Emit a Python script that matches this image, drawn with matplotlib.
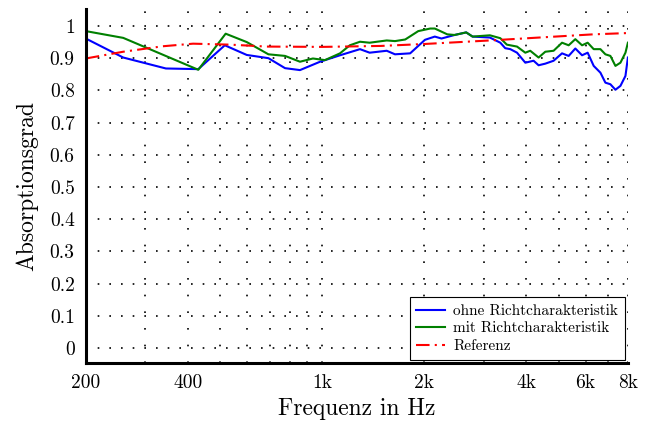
import matplotlib
matplotlib.use("Agg")
from matplotlib import pyplot as plt

plt.rcParams['font.family'] = ['cmr10', 'DejaVu Serif']
plt.rcParams['mathtext.fontset'] = 'cm'
plt.rcParams['axes.formatter.use_mathtext'] = True

# ohne Richtcharakteristik
f_blue = [200, 258, 345, 430, 515, 598, 693, 776, 859, 985, 1128, 1292, 1380, 1550, 1640,
          1818, 1921, 2011, 2150, 2250, 2460, 2662, 2780, 3128, 3358, 3472, 3594, 3762,
          3980, 4211, 4357, 4560, 4825, 5110, 5346, 5594, 5856, 6084, 6339, 6635, 6864,
          7102, 7349, 7604, 7868, 8000]
a_blue = [0.961, 0.902, 0.868, 0.866, 0.940, 0.910, 0.900, 0.869, 0.863, 0.889, 0.909,
          0.928, 0.917, 0.923, 0.912, 0.915, 0.938, 0.957, 0.967, 0.961, 0.972, 0.980,
          0.967, 0.964, 0.948, 0.931, 0.928, 0.917, 0.886, 0.892, 0.878, 0.883, 0.892,
          0.915, 0.907, 0.930, 0.909, 0.917, 0.876, 0.855, 0.824, 0.819, 0.802, 0.814,
          0.845, 0.902]

# mit Richtcharakteristik
f_green = [200, 258, 430, 518, 598, 693, 776, 859, 938, 1018, 1128, 1206, 1292, 1380, 1550,
           1640, 1758, 1921, 2084, 2150, 2340, 2460, 2662, 2780, 3128, 3358, 3510, 3762,
           3980, 4116, 4357, 4560, 4825, 5110, 5346, 5594, 5856, 6084, 6339, 6635, 6864,
           7102, 7349, 7604, 7868, 8000]
a_green = [0.984, 0.963, 0.864, 0.976, 0.950, 0.912, 0.907, 0.889, 0.899, 0.894, 0.915,
           0.940, 0.951, 0.948, 0.955, 0.953, 0.958, 0.984, 0.992, 0.992, 0.974, 0.972,
           0.980, 0.967, 0.971, 0.962, 0.942, 0.936, 0.917, 0.923, 0.902, 0.920, 0.923,
           0.948, 0.940, 0.959, 0.940, 0.948, 0.928, 0.928, 0.912, 0.907, 0.876, 0.886,
           0.917, 0.948]

# Referenz
f_ref = [200, 258, 338, 415, 534, 686, 1000, 1490, 2000, 3128, 4702, 6327, 8000]
a_ref = [0.899, 0.920, 0.937, 0.945, 0.942, 0.936, 0.935, 0.938, 0.944, 0.955, 0.966,
         0.974, 0.978]

major_ticks = [200, 400, 1000, 2000, 4000, 6000, 8000]
major_labels = ['200', '400', '1k', '2k', '4k', '6k', '8k']
minor_ticks = [300, 500, 600, 700, 800, 900, 3000, 5000, 7000]
y_ticks = [0, 0.1, 0.2, 0.3, 0.4, 0.5, 0.6, 0.7, 0.8, 0.9, 1]
y_labels = ['0', '0.1', '0.2', '0.3', '0.4', '0.5', '0.6', '0.7', '0.8', '0.9', '1']

fig = plt.figure(figsize=(6.5, 4.23), dpi=100)
ax = fig.add_axes([0.132, 0.142, 0.834, 0.837])

ax.plot(f_blue, a_blue, color='#0000ff', lw=1.5, label='ohne Richtcharakteristik')
ax.plot(f_green, a_green, color='#008000', lw=1.5, label='mit Richtcharakteristik')
ax.plot(f_ref, a_ref, color='#ff0000', lw=1.5, dashes=(6.5, 2.5, 1, 2.5), label='Referenz')

ax.set_xscale('log')
ax.set_xlim(200, 8000)
ax.set_ylim(-0.046, 1.053)
ax.set_xticks(major_ticks)
ax.set_xticklabels(major_labels)
ax.set_xticks(minor_ticks, minor=True)
ax.set_xticklabels([], minor=True)
ax.set_yticks(y_ticks)
ax.set_yticklabels(y_labels)
ax.tick_params(axis='both', which='both', length=0, labelsize=14, pad=8)

#dotted grid
ax.grid(True, axis='x', which='both', color='black', lw=1.2, linestyle=(0, (1, 9)))
ax.grid(True, axis='y', which='major', color='black', lw=1.2, linestyle=(0, (1, 6)))
ax.set_axisbelow(True)

for side in ['top', 'right']:
    ax.spines[side].set_visible(False)
for side in ['left', 'bottom']:
    ax.spines[side].set_linewidth(2.2)

ax.set_xlabel('Frequenz in Hz', fontsize=17, labelpad=4)
ax.set_ylabel('Absorptionsgrad', fontsize=17, labelpad=8)

leg = ax.legend(loc='lower right', fontsize=11, handlelength=1.9, fancybox=False,
                framealpha=1, edgecolor='black', borderaxespad=0.2,
                labelspacing=0.25, borderpad=0.45, handletextpad=0.5)
leg.get_frame().set_linewidth(0.8)

fig.savefig('out.png', dpi=100)
